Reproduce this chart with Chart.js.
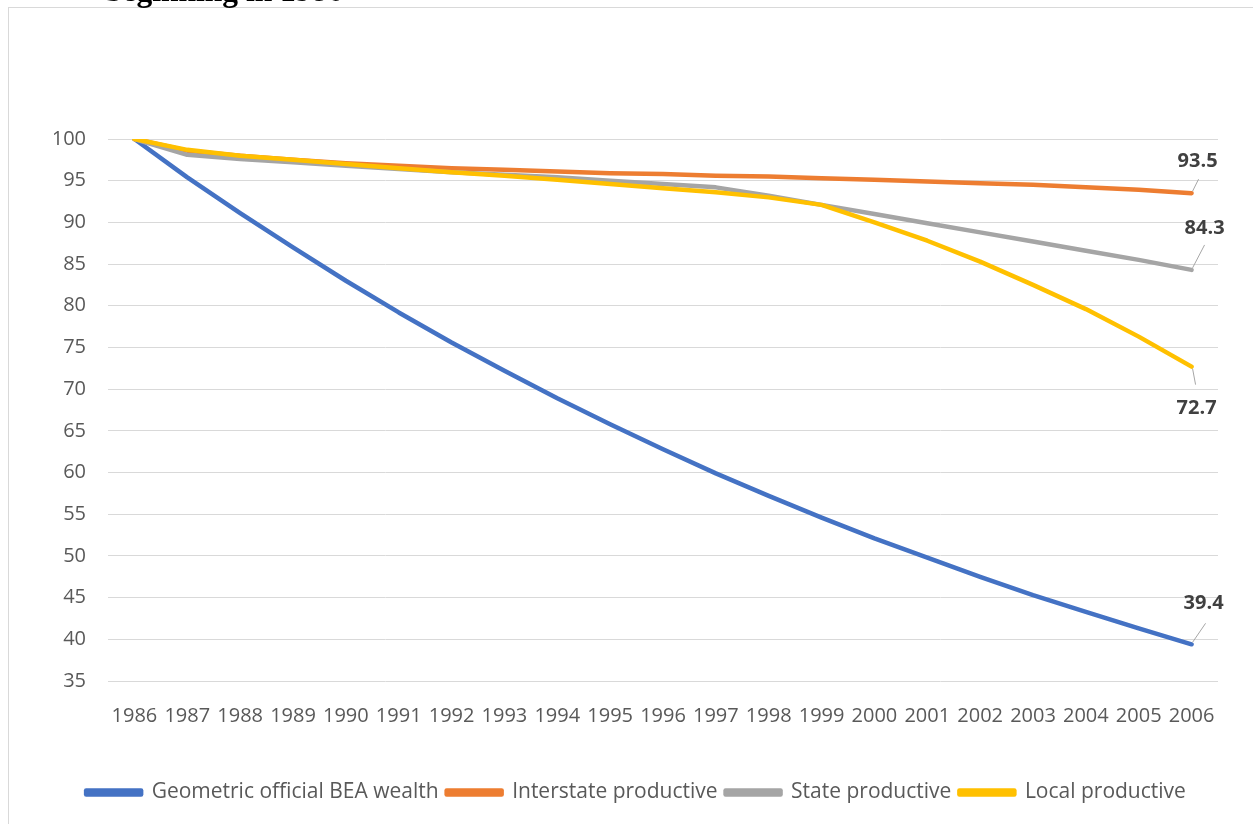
<!DOCTYPE html>
<html>
<head>
<meta charset="utf-8">
<script src="https://cdn.jsdelivr.net/npm/chart.js@4/dist/chart.umd.min.js"></script>
<style>
    body { margin: 0; background: #fff; overflow: hidden; }
    #caixa { position: absolute; left: 8px; top: 7px; width: 1300px; height: 900px; border: 1px solid #d9d9d9; }
    #titulo { position: absolute; left: 105px; top: -25px; font: bold 31.5px "Liberation Serif", "Times New Roman", serif; line-height: 1; color: #000; white-space: nowrap; }
    #grafico { position: absolute; left: 0; top: 0; }
</style>
</head>
<body>
<div id="caixa"></div>
<canvas id="grafico" width="1253" height="824"></canvas>
<div id="titulo">beginning in 1986</div>

<script>
// dados (índice 1986 = 100)
const anos = ['1986','1987','1988','1989','1990','1991','1992','1993','1994','1995','1996',
              '1997','1998','1999','2000','2001','2002','2003','2004','2005','2006'];

const geometrica = [100, 95.4, 91.1, 87.0, 83.0, 79.2, 75.6, 72.2, 68.9, 65.8, 62.8,
                    59.9, 57.2, 54.6, 52.1, 49.8, 47.5, 45.3, 43.3, 41.3, 39.4];
const interestadual = [100, 98.6, 98.0, 97.5, 97.1, 96.8, 96.5, 96.3, 96.1, 95.9, 95.8,
                       95.6, 95.5, 95.3, 95.1, 94.9, 94.7, 94.5, 94.2, 93.9, 93.5];
const estadual = [100, 98.1, 97.6, 97.2, 96.8, 96.4, 96.0, 95.7, 95.4, 95.0, 94.6,
                  94.2, 93.2, 92.1, 91.0, 89.9, 88.8, 87.7, 86.6, 85.5, 84.3];
const local = [100, 98.7, 98.0, 97.5, 97.0, 96.5, 96.0, 95.6, 95.1, 94.6, 94.1,
               93.6, 93.0, 92.1, 90.0, 87.8, 85.3, 82.5, 79.6, 76.3, 72.7];

const ticksY = [35, 40, 45, 50, 55, 60, 65, 70, 75, 80, 85, 90, 95, 100];

// deslocamento do rótulo final de cada série (texto e linha guia)
const rotulos = [
    { dx: 12, dy: -41, lx: 14, ly: -21 },
    { dx: 6,  dy: -32, lx: 7,  ly: -14 },
    { dx: 13, dy: -42, lx: 13, ly: -25 },
    { dx: 5,  dy: 42,  lx: 4,  ly: 18 }
];

const fonte = '"Open Sans", "Liberation Sans", sans-serif';

// rótulos do último ponto com linha guia
const rotuloFinal = {
    id: 'rotuloFinal',
    afterDatasetsDraw(chart) {
        const ctx = chart.ctx;
        chart.data.datasets.forEach((ds, i) => {
            const meta = chart.getDatasetMeta(i);
            const p = meta.data[meta.data.length - 1];
            const r = rotulos[i];
            ctx.save();
            ctx.strokeStyle = '#a6a6a6';
            ctx.lineWidth = 1;
            ctx.beginPath();
            ctx.moveTo(p.x + 1, p.y + (r.ly > 0 ? 2 : -2));
            ctx.lineTo(p.x + r.lx, p.y + r.ly);
            ctx.stroke();
            ctx.fillStyle = '#404040';
            ctx.font = 'bold 20px ' + fonte;
            ctx.textAlign = 'center';
            ctx.textBaseline = 'middle';
            ctx.fillText(ds.data[ds.data.length - 1].toFixed(1), p.x + r.dx, p.y + r.dy);
            ctx.restore();
        });
    }
};

function serie(label, dados, cor, ordem) {
    return {
        label: label,
        data: dados,
        borderColor: cor,
        backgroundColor: cor,
        borderWidth: 4.5,
        pointRadius: 0,
        tension: 0,
        borderCapStyle: 'round',
        borderJoinStyle: 'round',
        order: ordem
    };
}

const ctx = document.getElementById('grafico');
new Chart(ctx, {
    type: 'line',
    data: {
        labels: anos,
        datasets: [
            serie('Geometric official BEA wealth', geometrica, '#4472c4', 4),
            serie('Interstate productive', interestadual, '#ed7d31', 3),
            serie('State productive', estadual, '#a5a5a5', 2),
            serie('Local productive', local, '#ffc000', 1)
        ]
    },
    options: {
        responsive: false,
        animation: false,
        layout: { padding: { top: 139, right: 35, left: 54, bottom: 11 } },
        scales: {
            x: {
                offset: true,
                grid: { display: false },
                border: { display: false },
                ticks: { color: '#595959', font: { family: fonte, size: 20 }, padding: 15, autoSkip: false, maxRotation: 0 },
                afterFit: (s) => { s.height = 93; }
            },
            y: {
                min: 35,
                max: 100,
                afterBuildTicks: (s) => { s.ticks = ticksY.map(v => ({ value: v })); },
                grid: { color: '#d9d9d9', lineWidth: 1, drawTicks: false },
                border: { display: false },
                ticks: { color: '#595959', font: { family: fonte, size: 20 }, padding: 22 },
                afterFit: (s) => { s.width = 54; }
            }
        },
        plugins: {
            legend: {
                position: 'bottom',
                labels: {
                    color: '#595959',
                    font: { family: fonte, size: 21 },
                    boxWidth: 55,
                    boxHeight: 4,
                    padding: 8,
                    sort: (a, b) => a.datasetIndex - b.datasetIndex
                }
            },
            tooltip: { enabled: false }
        }
    },
    plugins: [rotuloFinal]
});
</script>
</body>
</html>
